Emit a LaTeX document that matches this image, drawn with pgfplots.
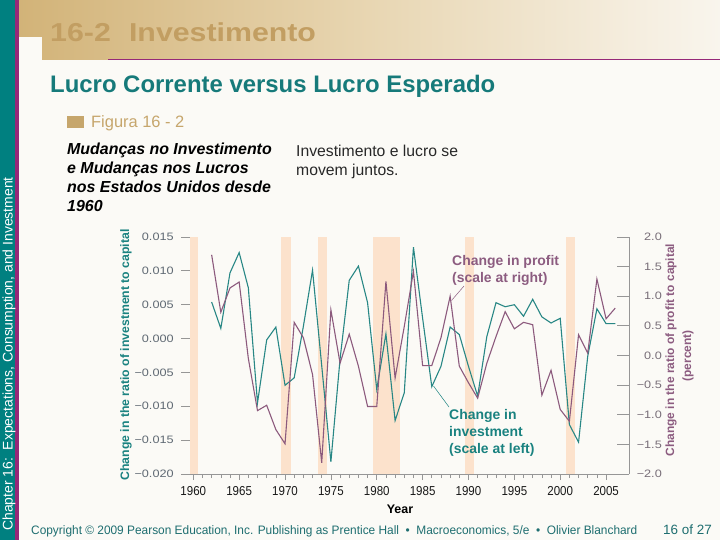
\documentclass[border=0pt]{standalone}
\usepackage{pgfplots}
\pgfplotsset{compat=1.18}
\usepackage{fontspec}
\setmainfont{Liberation Sans}
\definecolor{bg}{RGB}{251,250,246}
\definecolor{stripteal}{RGB}{0,128,128}
\definecolor{magline}{RGB}{150,40,120}
\definecolor{headL}{RGB}{210,179,120}
\definecolor{headM}{RGB}{232,214,178}
\definecolor{headR}{RGB}{249,245,237}
\definecolor{titlecol}{RGB}{194,158,98}
\definecolor{subteal}{RGB}{22,122,122}
\definecolor{figtan}{RGB}{198,166,108}
\definecolor{band}{RGB}{252,226,204}
\definecolor{lteal}{RGB}{40,135,133}
\definecolor{lpurple}{RGB}{140,90,125}
\definecolor{apurple}{RGB}{140,92,128}
\definecolor{ateal}{RGB}{26,130,128}
\definecolor{copyteal}{RGB}{30,110,112}
\definecolor{axgray}{RGB}{150,150,150}
\definecolor{tlgray}{RGB}{95,105,115}
\begin{document}
\begin{tikzpicture}[x=1bp,y=-1bp]
\path[use as bounding box] (0,0) rectangle (720,540);
\fill[bg] (0,0) rectangle (720,540);
% header
\shade[left color=headL, right color=headR, middle color=headM] (18,0)--(720,0)--(720,60)--(42,60)--(42,37)--(18,37)--cycle;
\draw[magline, line width=1bp] (108,60)--(720,60);
% left strip
\fill[stripteal] (0,0) rectangle (15,540);
\fill[magline] (15,0) rectangle (18.5,540);
\node[anchor=base west, inner sep=0, rotate=90, text=white, font=\fontsize{14}{14}\selectfont] at (12.5,531) {Chapter 16:\ \ Expectations, Consumption, and Investment};
% titles
\node[anchor=base west, inner sep=0, text=titlecol, font=\fontsize{26}{26}\selectfont\bfseries, xscale=1.17] at (50,42) {16-2\hspace{0.6em}Investimento};
\node[anchor=base west, inner sep=0, text=subteal, font=\fontsize{24}{24}\selectfont\bfseries] at (50,93) {Lucro Corrente versus Lucro Esperado};
\fill[figtan] (67,116) rectangle (84,128);
\node[anchor=base west, inner sep=0, text=figtan, font=\fontsize{16.5}{16.5}\selectfont] at (91,128) {Figura 16 - 2};
\begin{scope}[every node/.style={anchor=base west, inner sep=0, text=black, font=\fontsize{16}{16}\selectfont\bfseries\itshape}]
\node at (67,155) {Mudanças no Investimento};
\node at (67,174) {e Mudanças nos Lucros};
\node at (67,193) {nos Estados Unidos desde};
\node at (67,212) {1960};
\end{scope}
\begin{scope}[every node/.style={anchor=base west, inner sep=0, text={rgb,255:red,40;green,40;blue,40}, font=\fontsize{15.8}{15.8}\selectfont}]
\node at (296,157) {Investimento e lucro se};
\node at (296,176) {movem juntos.};
\end{scope}
% footer
\node[anchor=base west, inner sep=0, text=copyteal, font=\fontsize{12.3}{12.3}\selectfont, xscale=0.97] at (31,534) {Copyright © 2009 Pearson Education, Inc. Publishing as Prentice Hall \ • \ Macroeconomics, 5/e \ • \ Olivier Blanchard};
\node[anchor=base west, inner sep=0, text=copyteal, font=\fontsize{13.5}{13.5}\selectfont] at (663,534) {16 of 27};
% left axis: investment
\begin{axis}[at={(181bp,-474bp)}, anchor=south west, scale only axis,
  width=448bp, height=237bp,
  xmin=1958.66, xmax=2007.5, ymin=-0.020, ymax=0.015,
  axis x line=none, axis y line*=left,
  y axis line style={draw=none},
  scaled y ticks=false,
  ytick align=inside, major tick length=10bp,
  ytick={-0.020,-0.015,-0.010,-0.005,0,0.005,0.010,0.015},
  yticklabels={−0.020,−0.015,−0.010,−0.005,0.000,0.005,0.010,0.015},
  ytick style={axgray, line width=0.8bp},
  yticklabel style={font=\fontsize{10.8}{10.8}\selectfont, text=tlgray, inner sep=0pt, xscale=1.18, xshift=-6bp},
  clip=true]
\addplot[fill=band, draw=none] coordinates {(1959.6,-0.02) (1959.6,0.015) (1960.5,0.015) (1960.5,-0.02)};
\addplot[fill=band, draw=none] coordinates {(1969.6,-0.02) (1969.6,0.015) (1970.6,0.015) (1970.6,-0.02)};
\addplot[fill=band, draw=none] coordinates {(1973.6,-0.02) (1973.6,0.015) (1974.6,0.015) (1974.6,-0.02)};
\addplot[fill=band, draw=none] coordinates {(1979.6,-0.02) (1979.6,0.015) (1982.5,0.015) (1982.5,-0.02)};
\addplot[fill=band, draw=none] coordinates {(1989.6,-0.02) (1989.6,0.015) (1990.6,0.015) (1990.6,-0.02)};
\addplot[fill=band, draw=none] coordinates {(2000.6,-0.02) (2000.6,0.015) (2001.6,0.015) (2001.6,-0.02)};
\addplot[lteal, line width=1.1bp, mark=none] coordinates {
(1962,0.0054) (1963,0.0015) (1964,0.0097) (1965,0.0127) (1966,0.0075)
(1967,-0.0095) (1968,-0.0002) (1969,0.0017) (1970,-0.0069) (1971,-0.0058)
(1972,0.0018) (1973,0.0101) (1974,-0.0040) (1975,-0.0182) (1976,-0.0030)
(1977,0.0086) (1978,0.0107) (1979,0.0053) (1980,-0.0075) (1981,0.0007)
(1982,-0.0121) (1983,-0.0080) (1984,0.0135) (1985,0.0030) (1986,-0.0071)
(1987,-0.0041) (1988,0.0017) (1989,0.0006) (1990,-0.0041) (1991,-0.0085)
(1992,0.0003) (1993,0.0053) (1994,0.0047) (1995,0.0050) (1996,0.0033)
(1997,0.0058) (1998,0.0032) (1999,0.0023) (2000,0.0030) (2001,-0.0127)
(2002,-0.0153) (2003,-0.0026) (2004,0.0044) (2005,0.0022) (2006,0.0022)};
\end{axis}
% right axis: profit
\begin{axis}[at={(181bp,-474bp)}, anchor=south west, scale only axis,
  width=448bp, height=237bp,
  xmin=1958.66, xmax=2007.5, ymin=-2, ymax=2,
  axis x line=none, axis y line*=right,
  y axis line style={axgray, line width=0.8bp},
  ytick={-2,-1.5,...,2},
  yticklabels={−2.0,−1.5,−1.0,−0.5,0.0,0.5,1.0,1.5,2.0},
  ytick align=inside, major tick length=12bp,
  ytick style={axgray, line width=0.8bp},
  yticklabel style={font=\fontsize{10.8}{10.8}\selectfont, text={rgb,255:red,120;green,110;blue,120}, inner sep=0pt, anchor=east, xscale=1.18, xshift=28bp},
  clip=true]
\addplot[lpurple, line width=1.1bp, mark=none] coordinates {
(1962,1.70) (1963,0.73) (1964,1.14) (1965,1.24) (1966,-0.05)
(1967,-0.93) (1968,-0.84) (1969,-1.25) (1970,-1.49) (1971,0.56)
(1972,0.30) (1973,-0.32) (1974,-1.81) (1975,0.77) (1976,-0.13)
(1977,0.36) (1978,-0.18) (1979,-0.86) (1980,-0.86) (1981,1.25)
(1982,-0.38) (1983,0.49) (1984,1.42) (1985,-0.17) (1986,-0.17)
(1987,0.30) (1988,1.00) (1989,-0.18) (1990,-0.46) (1991,-0.72)
(1992,-0.13) (1993,0.32) (1994,0.74) (1995,0.45) (1996,0.56)
(1997,0.52) (1998,-0.67) (1999,-0.25) (2000,-0.91) (2001,-1.11)
(2002,0.35) (2003,0.04) (2004,1.29) (2005,0.62) (2006,0.80)};
\end{axis}
% bottom axis: years
\begin{axis}[at={(181bp,-474bp)}, anchor=south west, scale only axis,
  width=448bp, height=237bp,
  xmin=1958.66, xmax=2007.5, ymin=0, ymax=1,
  axis y line=none, axis x line*=bottom,
  x axis line style={axgray, line width=0.8bp},
  xtick={1960,1965,...,2005},
  xticklabels={1960,1965,1970,1975,1980,1985,1990,1995,2000,2005},
  minor x tick num=4,
  xtick align=outside,
  major tick length=6bp, minor tick length=4bp,
  xtick style={axgray, line width=0.6bp},
  xticklabel style={font=\fontsize{13}{13}\selectfont, text={rgb,255:red,25;green,25;blue,25}, inner sep=0pt, xscale=0.89, yshift=-6bp}]
\end{axis}
% axis labels
\node[rotate=90, inner sep=0, text=ateal, font=\fontsize{12.3}{12.3}\selectfont\bfseries] at (126,355) {Change in the ratio of investment to capital};
\node[rotate=90, inner sep=0, text=apurple, font=\fontsize{12}{12}\selectfont\bfseries] at (671,350) {Change in the ratio of profit to capital};
\node[rotate=90, inner sep=0, text=apurple, font=\fontsize{12}{12}\selectfont\bfseries] at (688,356) {(percent)};
\node[inner sep=0, text=black, font=\fontsize{12.5}{12.5}\selectfont\bfseries] at (400,509.5) {Year};
% annotations
\begin{scope}[every node/.style={anchor=base west, inner sep=0, font=\fontsize{14}{14}\selectfont\bfseries}]
\node[text=apurple] at (452,266) {Change in profit};
\node[text=apurple] at (452,283) {(scale at right)};
\node[text=ateal] at (449,419) {Change in};
\node[text=ateal] at (449,436) {investment};
\node[text=ateal] at (449,453) {(scale at left)};
\end{scope}
\draw[apurple, line width=0.5bp] (464,286)--(451.5,300.5);
\draw[ateal, line width=0.5bp] (433.5,386)--(449,407);
\end{tikzpicture}
\end{document}
